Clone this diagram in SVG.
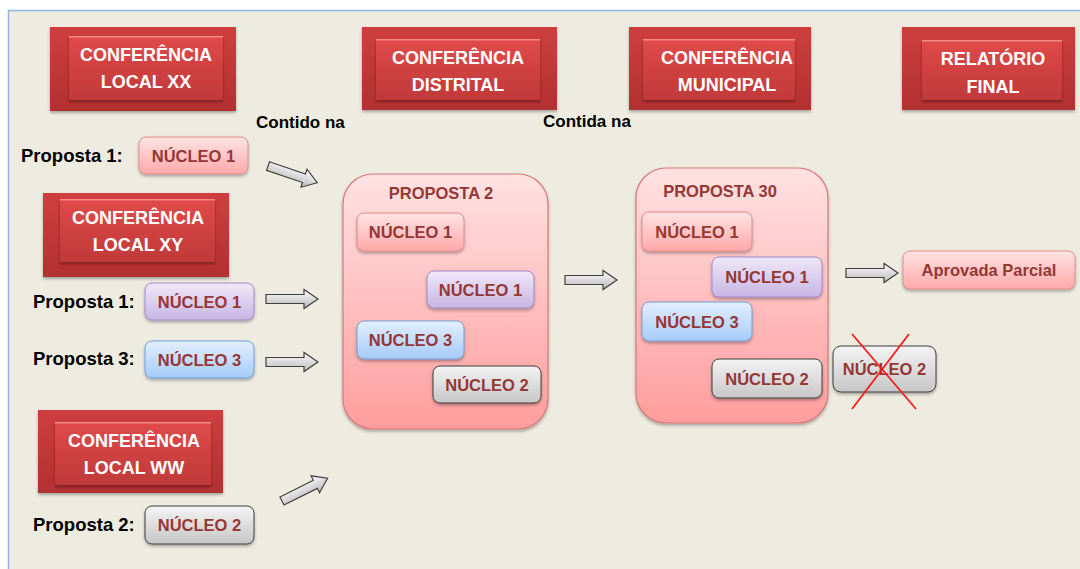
<svg xmlns="http://www.w3.org/2000/svg" width="1080" height="569" viewBox="0 0 1080 569">
<defs>
<linearGradient id="gOut" x1="0" y1="0" x2="0" y2="1"><stop offset="0" stop-color="#CF3E3E"/><stop offset="1" stop-color="#B23131"/></linearGradient>
<linearGradient id="gIn" x1="0" y1="0" x2="0" y2="1"><stop offset="0" stop-color="#E04A4A"/><stop offset="1" stop-color="#C03939"/></linearGradient>
<linearGradient id="gPink" x1="0" y1="0" x2="0" y2="1"><stop offset="0" stop-color="#FFE4E4"/><stop offset="1" stop-color="#FFA9A9"/></linearGradient>
<linearGradient id="gCont" x1="0" y1="0" x2="0" y2="1"><stop offset="0" stop-color="#FFE2E2"/><stop offset="1" stop-color="#FF9D9D"/></linearGradient>
<linearGradient id="gPurp" x1="0" y1="0" x2="0" y2="1"><stop offset="0" stop-color="#EFE8F8"/><stop offset="1" stop-color="#C8B5E4"/></linearGradient>
<linearGradient id="gBlue" x1="0" y1="0" x2="0" y2="1"><stop offset="0" stop-color="#E4EFFF"/><stop offset="1" stop-color="#A6CBF8"/></linearGradient>
<linearGradient id="gGray" x1="0" y1="0" x2="0" y2="1"><stop offset="0" stop-color="#F4F4F4"/><stop offset="1" stop-color="#C6C6C6"/></linearGradient>
<linearGradient id="gArr" x1="0" y1="0" x2="0" y2="1"><stop offset="0" stop-color="#FFFFFF"/><stop offset="1" stop-color="#B8B8B8"/></linearGradient>
<filter id="sh" x="-10%" y="-10%" width="130%" height="140%"><feDropShadow dx="0" dy="2" stdDeviation="1.5" flood-color="#000" flood-opacity="0.3"/></filter>
<filter id="shIn" x="-10%" y="-10%" width="130%" height="140%"><feDropShadow dx="0" dy="2" stdDeviation="1.2" flood-color="#5A1010" flood-opacity="0.6"/></filter>
<path id="arr" d="M0,-4.5 L38,-4.5 L38,-9.5 L52,0 L38,9.5 L38,4.5 L0,4.5 Z"/>
</defs>
<style>
.cfo{fill:url(#gOut);filter:url(#sh)}
.cfi{fill:url(#gIn);filter:url(#shIn)}
.hl{stroke:#F48A8A;stroke-width:1.5}
.ct{font-family:"Liberation Sans",Arial,sans-serif;font-weight:bold;font-size:18px;fill:#FFFFFF;text-anchor:middle}
.lb{font-family:"Liberation Sans",Arial,sans-serif;font-weight:bold;fill:#000000}
.nt{font-family:"Liberation Sans",Arial,sans-serif;font-weight:bold;font-size:16.5px;fill:#953735;text-anchor:middle}
.bx{filter:url(#sh);stroke-width:1}
.pk{fill:url(#gPink);stroke:#E28A8A}
.pu{fill:url(#gPurp);stroke:#A08BC8}
.bl{fill:url(#gBlue);stroke:#6E9FD9}
.gr{fill:url(#gGray);stroke:#3F3F3F}
.cont{fill:url(#gCont);stroke:#D97878;stroke-width:1.2;filter:url(#sh)}
.ar{fill:url(#gArr);stroke:#404040;stroke-width:1.2}
</style>
<rect x="0" y="0" width="1080" height="569" fill="#FFFFFF"/>
<rect x="8.5" y="10.5" width="1080" height="570" fill="#EEECE1" stroke="#8EB4E3" stroke-width="1.5"/>

<g id="conf-local-xx">
<rect class="cfo" x="50" y="27" width="186" height="84"/>
<rect class="cfi" x="69" y="36" width="154" height="64"/>
<line class="hl" x1="69" y1="36.8" x2="223" y2="36.8"/>
<text class="ct" x="146" y="61">CONFERÊNCIA</text>
<text class="ct" x="146" y="88">LOCAL XX</text>
</g>
<g id="conf-distrital">
<rect class="cfo" x="362" y="27" width="195" height="83"/>
<rect class="cfi" x="376" y="39" width="164" height="61"/>
<line class="hl" x1="376" y1="39.8" x2="540" y2="39.8"/>
<text class="ct" x="458" y="64">CONFERÊNCIA</text>
<text class="ct" x="458" y="91">DISTRITAL</text>
</g>
<g id="conf-municipal">
<rect class="cfo" x="629" y="27" width="182" height="83"/>
<rect class="cfi" x="643" y="39" width="152" height="61"/>
<line class="hl" x1="643" y1="39.8" x2="795" y2="39.8"/>
<text class="ct" x="727" y="64">CONFERÊNCIA</text>
<text class="ct" x="727" y="91">MUNICIPAL</text>
</g>
<g id="relatorio-final">
<rect class="cfo" x="902" y="27" width="173" height="83"/>
<rect class="cfi" x="922" y="40" width="140" height="60"/>
<line class="hl" x1="922" y1="40.8" x2="1062" y2="40.8"/>
<text class="ct" x="993" y="65">RELATÓRIO</text>
<text class="ct" x="993" y="93">FINAL</text>
</g>
<g id="conf-local-xy">
<rect class="cfo" x="43" y="193" width="186" height="84"/>
<rect class="cfi" x="60" y="199" width="155" height="63"/>
<line class="hl" x1="60" y1="199.8" x2="215" y2="199.8"/>
<text class="ct" x="138" y="224">CONFERÊNCIA</text>
<text class="ct" x="138" y="251">LOCAL XY</text>
</g>
<g id="conf-local-ww">
<rect class="cfo" x="38" y="410" width="185" height="83"/>
<rect class="cfi" x="55" y="422" width="156" height="63"/>
<line class="hl" x1="55" y1="422.8" x2="211" y2="422.8"/>
<text class="ct" x="134" y="447">CONFERÊNCIA</text>
<text class="ct" x="134" y="474">LOCAL WW</text>
</g>

<g id="labels">
<text class="lb" x="256" y="128" font-size="17">Contido na</text>
<text class="lb" x="543" y="127" font-size="17">Contida na</text>
</g>

<g id="xx-proposta1">
<text class="lb" x="21" y="162" font-size="18.5">Proposta 1:</text>
<rect class="bx pk" x="139" y="137" width="109" height="37" rx="7"/>
<text class="nt" x="193.5" y="161.5">NÚCLEO 1</text>
</g>
<g id="xy-proposta1">
<text class="lb" x="33" y="308" font-size="18.5">Proposta 1:</text>
<rect class="bx pu" x="145" y="283" width="109" height="37" rx="7"/>
<text class="nt" x="199.5" y="307.5">NÚCLEO 1</text>
</g>
<g id="xy-proposta3">
<text class="lb" x="33" y="365" font-size="18.5">Proposta 3:</text>
<rect class="bx bl" x="145" y="341" width="109" height="37" rx="7"/>
<text class="nt" x="199.5" y="365.5">NÚCLEO 3</text>
</g>
<g id="ww-proposta2">
<text class="lb" x="33" y="531" font-size="18.5">Proposta 2:</text>
<rect class="bx gr" x="145" y="506" width="109" height="38" rx="7"/>
<text class="nt" x="199.5" y="531">NÚCLEO 2</text>
</g>

<g id="proposta-2">
<rect class="cont" x="343" y="174" width="205" height="255" rx="30"/>
<text class="nt" x="441" y="199" font-size="18">PROPOSTA 2</text>
<rect class="bx pk" x="357" y="213" width="107" height="38" rx="7"/>
<text class="nt" x="410.5" y="238">NÚCLEO 1</text>
<rect class="bx pu" x="427" y="271" width="107" height="37" rx="7"/>
<text class="nt" x="480.5" y="295.5">NÚCLEO 1</text>
<rect class="bx bl" x="357" y="321" width="107" height="38" rx="7"/>
<text class="nt" x="410.5" y="346">NÚCLEO 3</text>
<rect class="bx gr" x="433" y="366" width="108" height="37" rx="7"/>
<text class="nt" x="487" y="390.5">NÚCLEO 2</text>
</g>

<g id="proposta-30">
<rect class="cont" x="636" y="168" width="192" height="255" rx="30"/>
<text class="nt" x="720" y="197" font-size="18">PROPOSTA 30</text>
<rect class="bx pk" x="642" y="212" width="110" height="39" rx="7"/>
<text class="nt" x="697" y="237.5">NÚCLEO 1</text>
<rect class="bx pu" x="712" y="257" width="110" height="40" rx="7"/>
<text class="nt" x="767" y="283">NÚCLEO 1</text>
<rect class="bx bl" x="642" y="302" width="110" height="39" rx="7"/>
<text class="nt" x="697" y="327.5">NÚCLEO 3</text>
<rect class="bx gr" x="712" y="359" width="110" height="39" rx="7"/>
<text class="nt" x="767" y="384.5">NÚCLEO 2</text>
</g>

<g id="aprovada-parcial">
<rect class="bx pk" x="903" y="251" width="172" height="38" rx="7"/>
<text class="nt" x="989" y="276" font-size="17">Aprovada Parcial</text>
</g>

<g id="nucleo2-rejeitado">
<rect class="bx gr" x="833" y="346" width="103" height="46" rx="8"/>
<text class="nt" x="884.5" y="375" font-size="14.6">NÚCLEO 2</text>
<line x1="852" y1="334" x2="916" y2="409" stroke="#FF1A1A" stroke-width="1.8"/>
<line x1="909" y1="334" x2="852" y2="409" stroke="#FF1A1A" stroke-width="1.8"/>
</g>

<g id="connectors">
<use href="#arr" class="ar" transform="translate(268,166) rotate(18.8)"/>
<use href="#arr" class="ar" transform="translate(266,299)"/>
<use href="#arr" class="ar" transform="translate(266,362)"/>
<use href="#arr" class="ar" transform="translate(282,501) rotate(-26.6) scale(0.98,1)"/>
<use href="#arr" class="ar" transform="translate(565,280)"/>
<use href="#arr" class="ar" transform="translate(846,273)"/>
</g>
</svg>
